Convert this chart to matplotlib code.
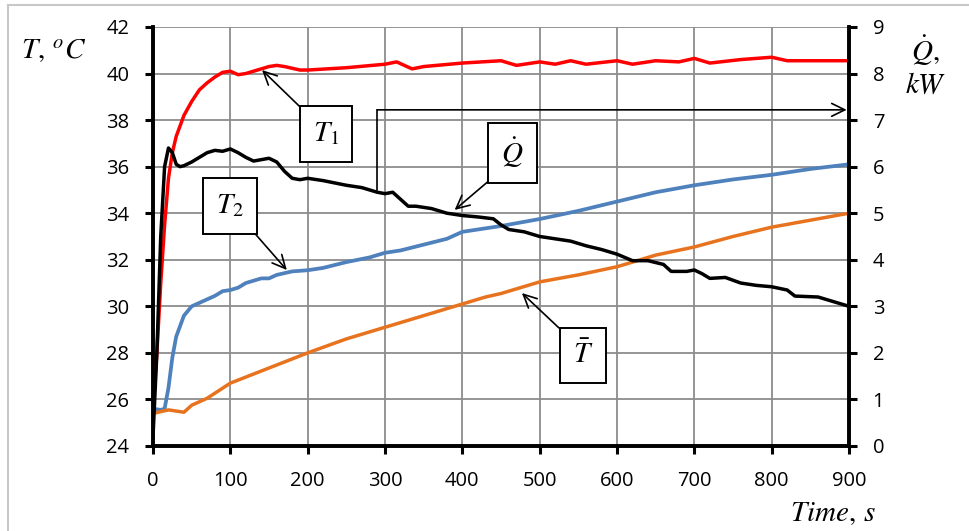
import numpy as np
import matplotlib
matplotlib.use('Agg')
import matplotlib.pyplot as plt
from matplotlib.lines import Line2D

plt.rcParams['font.family'] = ['Open Sans', 'DejaVu Sans']
plt.rcParams['mathtext.fontset'] = 'stix'

# T1, left axis (degC)
t1_time = [0, 5, 10, 15, 20, 25, 30, 40, 50, 60, 70, 80, 90, 100, 110, 120, 140, 150, 160, 170,
           190, 200, 250, 300, 315, 335, 350, 400, 450, 470, 500, 520, 540, 560, 600, 620, 650,
           680, 700, 720, 760, 800, 820, 860, 900]
t1_vals = [25.5, 28.0, 31.0, 33.5, 35.5, 36.6, 37.3, 38.2, 38.8, 39.3, 39.6, 39.85, 40.05, 40.1,
           39.95, 40.0, 40.2, 40.3, 40.35, 40.3, 40.15, 40.15, 40.25, 40.4, 40.5, 40.2, 40.3,
           40.45, 40.55, 40.35, 40.5, 40.4, 40.55, 40.4, 40.55, 40.4, 40.55, 40.5, 40.65, 40.45,
           40.6, 40.7, 40.55, 40.55, 40.55]

# T2, left axis (degC)
t2_time = [0, 10, 15, 20, 25, 30, 40, 50, 60, 70, 80, 90, 100, 110, 120, 140, 150, 160, 180, 200,
           220, 250, 280, 300, 320, 350, 380, 400, 450, 500, 550, 600, 650, 700, 750, 800, 850, 900]
t2_vals = [25.6, 25.55, 25.6, 26.5, 27.8, 28.7, 29.6, 30.0, 30.15, 30.3, 30.45, 30.65, 30.7, 30.8,
           31.0, 31.2, 31.2, 31.35, 31.5, 31.55, 31.65, 31.9, 32.1, 32.3, 32.4, 32.65, 32.9, 33.2,
           33.45, 33.75, 34.1, 34.5, 34.9, 35.2, 35.45, 35.65, 35.9, 36.1]

# mean temperature, left axis (degC)
tm_time = [0, 20, 40, 50, 70, 100, 150, 200, 250, 300, 350, 400, 430, 450, 500, 550, 600, 650,
           700, 750, 800, 850, 900]
tm_vals = [25.4, 25.55, 25.45, 25.75, 26.05, 26.7, 27.35, 28.0, 28.6, 29.1, 29.6, 30.1, 30.4,
           30.55, 31.05, 31.35, 31.7, 32.2, 32.55, 33.0, 33.4, 33.7, 34.0]

# heat flow, right axis (kW)
q_time = [0, 5, 10, 15, 20, 25, 30, 35, 40, 50, 60, 70, 80, 90, 100, 110, 120, 130, 140, 150,
          160, 170, 180, 190, 200, 220, 250, 270, 290, 300, 310, 320, 330, 340, 360, 380, 400,
          420, 440, 450, 460, 480, 500, 520, 540, 560, 580, 600, 610, 620, 640, 660, 670, 690,
          700, 710, 720, 740, 760, 780, 800, 820, 830, 860, 880, 900]
q_vals = [0.2, 2.0, 4.5, 6.0, 6.4, 6.3, 6.05, 6.0, 6.02, 6.1, 6.2, 6.3, 6.35, 6.33, 6.38, 6.3,
          6.2, 6.12, 6.15, 6.18, 6.1, 5.9, 5.75, 5.72, 5.75, 5.7, 5.6, 5.55, 5.45, 5.42, 5.45,
          5.3, 5.15, 5.15, 5.1, 5.0, 4.95, 4.92, 4.88, 4.75, 4.65, 4.6, 4.5, 4.45, 4.4, 4.3,
          4.22, 4.12, 4.05, 3.98, 3.98, 3.9, 3.75, 3.75, 3.78, 3.7, 3.6, 3.62, 3.5, 3.45, 3.42,
          3.35, 3.22, 3.2, 3.1, 3.0]

x_ticks = list(range(0, 901, 100))
left_ticks = list(range(24, 43, 2))
right_ticks = list(range(0, 10))

fig = plt.figure(figsize=(9.69, 5.31), dpi=100)
ax = fig.add_axes([0.1579, 0.1601, 0.7183, 0.7891])
ax2 = ax.twinx()

ax.plot(t1_time, t1_vals, color='#ff0000', lw=2.5, zorder=3)
ax.plot(t2_time, t2_vals, color='#4f81bd', lw=2.7, zorder=3)
ax.plot(tm_time, tm_vals, color='#e8731e', lw=2.5, zorder=3)
ax2.plot(q_time, q_vals, color='black', lw=2.5, zorder=3)

ax.set_xlim(0, 900)
ax.set_ylim(24, 42)
ax2.set_ylim(0, 9)
ax.set_xticks(x_ticks)
ax.set_yticks(left_ticks)
ax2.set_yticks(right_ticks)

ax.grid(True, color='#8c8c8c', lw=1.3)
ax.set_axisbelow(True)
for a in (ax, ax2):
    a.spines['top'].set_visible(False)
    for s in ('left', 'right', 'bottom'):
        a.spines[s].set_linewidth(2.6)
    a.tick_params(direction='out', length=6, width=2.2, labelsize=14.5)
ax.tick_params(axis='y', pad=11)
ax.tick_params(axis='x', pad=12)
ax2.tick_params(axis='y', pad=11)

# axis labels
fig.text(0.055, 0.902, r'$T,\,^oC$', fontsize=21, ha='center', va='center')
fig.text(0.955, 0.905, r'$\dot{Q},$', fontsize=21, ha='center', va='center')
fig.text(0.955, 0.84, r'$kW$', fontsize=21, ha='center', va='center')
fig.text(0.86, 0.032, r'$Time,\,s$', fontsize=21, ha='center', va='center')

# boxed labels with arrows
box = dict(boxstyle='square,pad=0.45', fc='white', ec='black', lw=1.4)
head = '->,head_length=0.45,head_width=0.22'
labels = [
    (r'$T_1$', (141, 40.15), (224, 37.4), (0, 1)),
    (r'$\dot{Q}$', (390, 34.14), (465, 36.59), (0, 0)),
    (r'$T_2$', (173, 31.56), (99, 34.31), (1, 0)),
    (r'$\bar{T}$', (477, 30.57), (556, 27.89), (0, 1)),
]
for txt, xy, xyt, rp in labels:
    ax2.annotate(txt, xy=xy, xycoords=ax.transData, xytext=xyt, textcoords=ax.transData,
                 fontsize=21, ha='center', va='center', bbox=box, zorder=6,
                 arrowprops=dict(arrowstyle=head, lw=1.2, color='black', relpos=rp,
                                 shrinkA=0, shrinkB=0))

# bracket from Q curve to right axis
ax2.plot([290, 290], [5.5, 7.22], color='black', lw=1.2, zorder=5)
ax2.annotate('', xy=(897, 7.22), xytext=(290, 7.22), fontsize=21,
             arrowprops=dict(arrowstyle=head, lw=1.2, color='black', shrinkA=0, shrinkB=0))

# light frame around the picture
fig.add_artist(Line2D([0.0083, 0.0083], [0, 0.9906], color='#c8c8c8', lw=1.5))
fig.add_artist(Line2D([0.0083, 1], [0.9906, 0.9906], color='#c8c8c8', lw=1.5))

fig.savefig('out.png', dpi=100)
